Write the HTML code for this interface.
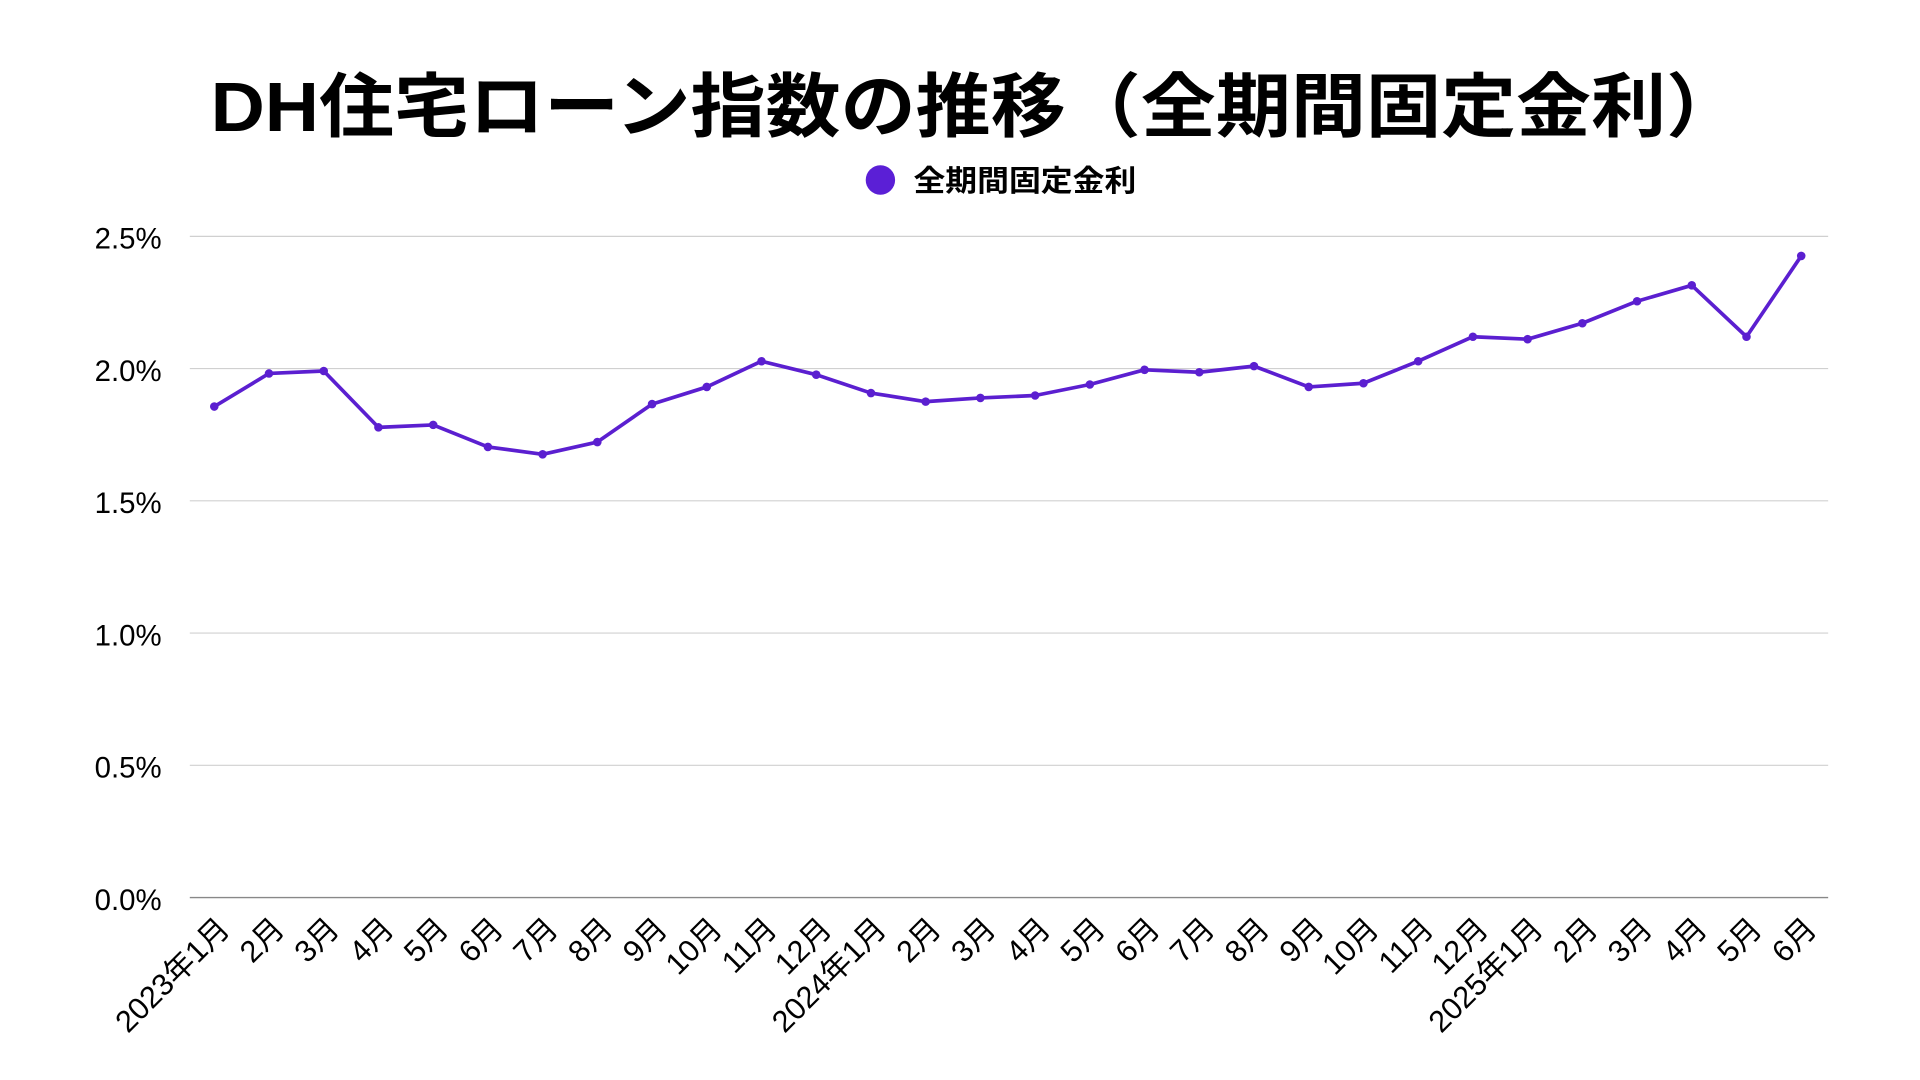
<!DOCTYPE html>
<html><head><meta charset="utf-8"><style>
html,body{margin:0;padding:0;background:#fff;}
svg{display:block}
text{font-family:"Liberation Sans","Noto Sans CJK JP",sans-serif;fill:#000}
</style></head><body>
<svg width="1920" height="1080" viewBox="0 0 1568 882" xmlns="http://www.w3.org/2000/svg">
<text x="172" y="107" font-size="57" font-weight="bold" textLength="1250" lengthAdjust="spacingAndGlyphs">DH住宅ローン指数の推移（全期間固定金利）</text>
<circle cx="719" cy="147" r="12" fill="#5b1fd6"/>
<text x="746" y="156" font-size="24" font-weight="bold" textLength="182" lengthAdjust="spacingAndGlyphs">全期間固定金利</text>
<g stroke="#d0d0d0" stroke-width="1">
<line x1="155" x2="1493" y1="193" y2="193"/>
<line x1="155" x2="1493" y1="301" y2="301"/>
<line x1="155" x2="1493" y1="409" y2="409"/>
<line x1="155" x2="1493" y1="517" y2="517"/>
<line x1="155" x2="1493" y1="625" y2="625"/>
</g>
<line x1="155" x2="1493" y1="733" y2="733" stroke="#888" stroke-width="1.2"/>
<g font-size="24" text-anchor="end">
<text x="132" y="203">2.5%</text>
<text x="132" y="311">2.0%</text>
<text x="132" y="419">1.5%</text>
<text x="132" y="527">1.0%</text>
<text x="132" y="635">0.5%</text>
<text x="132" y="743">0.0%</text>
</g>
<g id="series"></g>
<g id="xl" font-size="25" text-anchor="end"></g>
</svg>
<script>
var ys=[332,305,303,349,347,365,371,361,330,316,295,306,321,328,325,323,314,302,304,299,316,313,295,275,277,264,246,233,275,209];
var labels=["2023年1月","2月","3月","4月","5月","6月","7月","8月","9月","10月","11月","12月","2024年1月","2月","3月","4月","5月","6月","7月","8月","9月","10月","11月","12月","2025年1月","2月","3月","4月","5月","6月"];
var ns="http://www.w3.org/2000/svg",g=document.getElementById("series"),xl=document.getElementById("xl");
var pts=[];
for(var i=0;i<30;i++){var x=175+i*(1471-175)/29;pts.push(x+","+ys[i]);
var c=document.createElementNS(ns,"circle");c.setAttribute("cx",x);c.setAttribute("cy",ys[i]);c.setAttribute("r",3.5);c.setAttribute("fill","#5b1fd0");g.appendChild(c);
var t=document.createElementNS(ns,"text");var tx=x+14,ty=760;t.setAttribute("x",tx);t.setAttribute("y",ty);t.setAttribute("transform","rotate(-45 "+tx+" "+ty+")");t.textContent=labels[i];xl.appendChild(t);}
var p=document.createElementNS(ns,"polyline");p.setAttribute("points",pts.join(" "));p.setAttribute("fill","none");p.setAttribute("stroke","#5b1fd0");p.setAttribute("stroke-width","3");p.setAttribute("stroke-linejoin","round");g.insertBefore(p,g.firstChild);
</script>
</body></html>
